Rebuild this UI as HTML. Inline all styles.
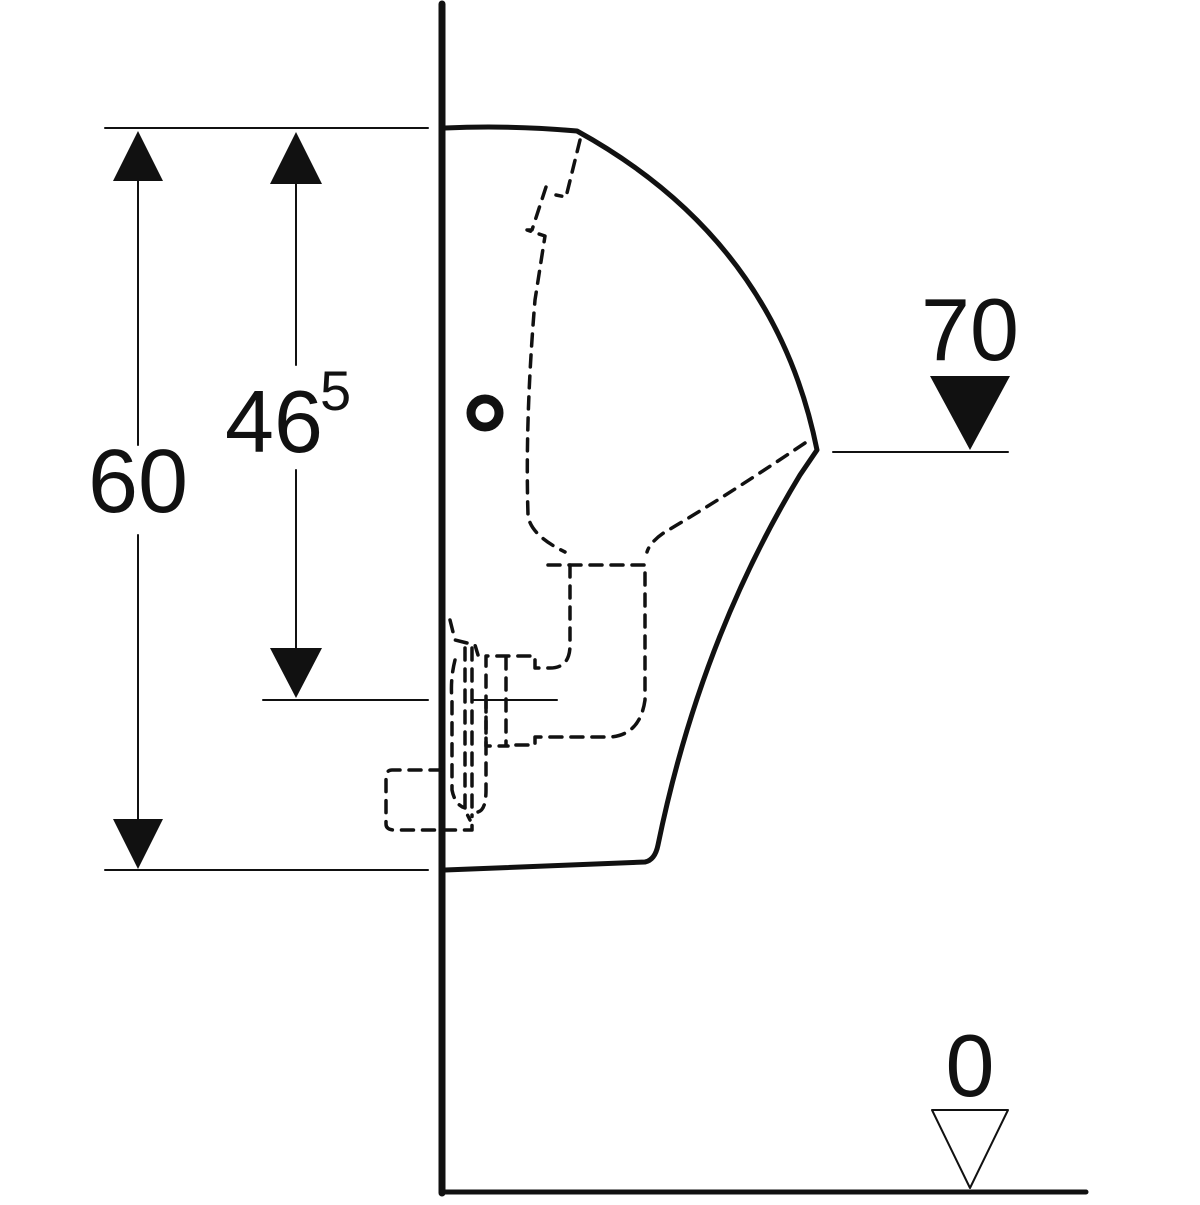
<!DOCTYPE html><html><head><style>body{margin:0;background:#fff}</style></head><body>
<svg width="1200" height="1200" viewBox="0 0 1200 1200" xmlns="http://www.w3.org/2000/svg">
<g stroke="#111" fill="none" stroke-linecap="round" stroke-linejoin="round">
<line x1="442" y1="4" x2="442" y2="1193" stroke-width="7"/>
<line x1="442" y1="1192" x2="1086" y2="1192" stroke-width="5"/>
<path d="M445,128 Q510,125 577,131 Q775,240 817,450 L800,475 Q700,640 658,845 Q655,860 645,862 L445,870" stroke-width="5"/>
<circle cx="485" cy="413" r="14" stroke-width="9"/>
<g stroke-width="3.5" stroke-dasharray="12,9">
<path d="M580,140 L566,197 L556,195"/>
<path d="M546,187 L532,230 L527,230 L545,236 L535,300 Q525,420 528,515 Q530,535 565,552"/>
<path d="M805,443 Q720,500 665,532 Q650,542 647,552"/>
<path d="M548,565 L645,565 L645,700 Q640,735 610,737 L535,737 L535,745 L508,745"/>
<path d="M570,565 L570,645 Q570,668 550,668 L535,668 L535,656 L486,656 L486,746 L508,746"/>
<line x1="506" y1="657" x2="506" y2="745"/>
<path d="M450,620 L455,640 L475,645 L478,655"/>
<path d="M455,660 Q450,680 452,700 L452,790 Q455,805 465,808"/>
<path d="M465,648 L465,810 L470,820"/>
<path d="M472,648 L472,812"/>
<path d="M486,700 L486,790 Q486,810 478,812"/>
<path d="M442,770 L392,770 Q386,770 386,778 L386,824 Q386,830 395,830 L472,830 L472,815"/>
</g>
<g stroke-width="2">
<line x1="105" y1="128" x2="428" y2="128"/>
<line x1="105" y1="870" x2="428" y2="870"/>
<line x1="263" y1="700" x2="428" y2="700"/>
<line x1="472" y1="700" x2="557" y2="700"/>
<line x1="138" y1="180" x2="138" y2="445"/>
<line x1="138" y1="535" x2="138" y2="820"/>
<line x1="296" y1="183" x2="296" y2="365"/>
<line x1="296" y1="470" x2="296" y2="648"/>
<line x1="833" y1="452" x2="1008" y2="452"/>
<polygon points="932,1110 1008,1110 970,1188"/>
</g>
</g>
<g fill="#111">
<polygon points="113,181 163,181 138,131"/>
<polygon points="113,819 163,819 138,869"/>
<polygon points="270,184 322,184 296,132"/>
<polygon points="270,648 322,648 296,698"/>
<polygon points="930,376 1010,376 970,450"/>
</g>
<g font-family="Liberation Sans, sans-serif" fill="#111">
<text x="138" y="512" font-size="90" text-anchor="middle">60</text>
<text x="225" y="452" font-size="88">46</text>
<text x="320" y="410" font-size="56">5</text>
<text x="970" y="360" font-size="88" text-anchor="middle">70</text>
<text x="970" y="1096" font-size="88" text-anchor="middle">0</text>
</g>
</svg>
</body></html>
